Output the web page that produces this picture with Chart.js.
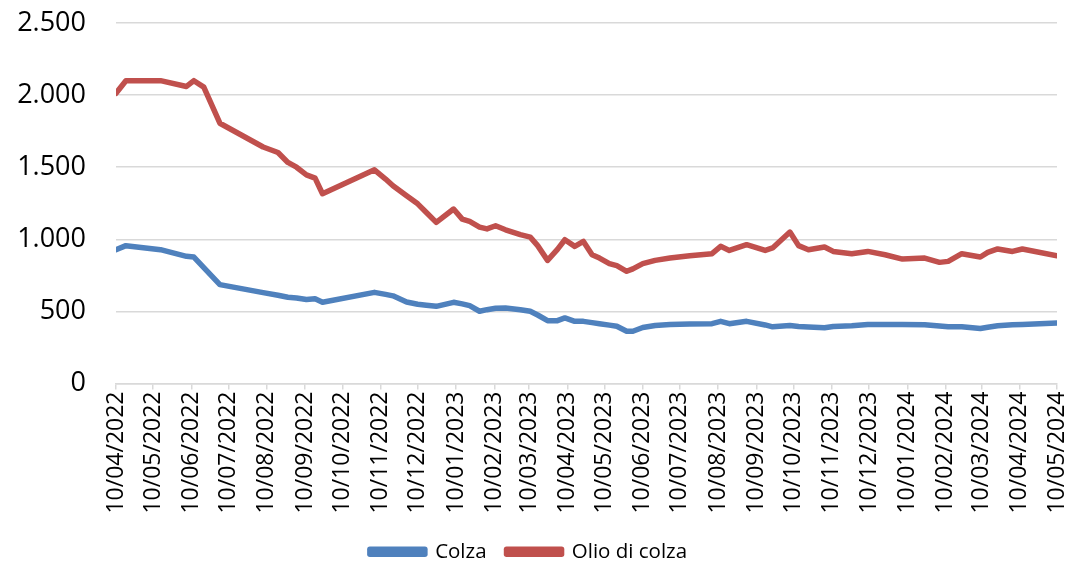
<!DOCTYPE html>
<html>
<head>
<meta charset="utf-8">
<script src="https://cdn.jsdelivr.net/npm/chart.js@4.4.1/dist/chart.umd.min.js"></script>
<style>
  html, body { margin: 0; padding: 0; background: #fff; }
  #wrap { width: 1066px; height: 563px; }
</style>
</head>
<body>
<div id="wrap"><canvas id="chart"></canvas></div>
<script>
// observation dates (dd/mm/yyyy)
const dates = [
    '10/04/2022', '18/04/2022', '16/05/2022', '06/06/2022', '12/06/2022', '20/06/2022', '03/07/2022',
    '07/08/2022', '19/08/2022', '27/08/2022', '03/09/2022', '11/09/2022', '18/09/2022', '24/09/2022',
    '05/11/2022', '14/11/2022', '20/11/2022', '01/12/2022', '10/12/2022', '17/12/2022', '25/12/2022',
    '08/01/2023', '15/01/2023', '21/01/2023', '29/01/2023', '04/02/2023', '11/02/2023', '19/02/2023',
    '03/03/2023', '11/03/2023', '17/03/2023', '25/03/2023', '02/04/2023', '08/04/2023', '16/04/2023',
    '23/04/2023', '30/04/2023', '06/05/2023', '14/05/2023', '20/05/2023', '28/05/2023', '02/06/2023',
    '10/06/2023', '20/06/2023', '02/07/2023', '18/07/2023', '05/08/2023', '12/08/2023', '19/08/2023',
    '02/09/2023', '17/09/2023', '23/09/2023', '07/10/2023', '14/10/2023', '22/10/2023', '04/11/2023',
    '11/11/2023', '26/11/2023', '09/12/2023', '23/12/2023', '06/01/2024', '24/01/2024', '05/02/2024',
    '12/02/2024', '23/02/2024', '09/03/2024', '15/03/2024', '23/03/2024', '04/04/2024', '12/04/2024',
    '10/05/2024'
];

const colza = [
    928, 956, 928, 882, 877, 804, 686,
    630, 612, 598, 593, 582, 587, 563,
    632, 618, 608, 565, 550, 543, 535,
    563, 552, 540, 501, 512, 522, 524,
    512, 501, 475, 436, 436, 455, 431,
    431, 422, 415, 405, 397, 362, 362,
    388, 402, 409, 413, 415, 431, 415,
    431, 406, 393, 402, 395, 392, 386,
    395, 400, 409, 409, 409, 408, 398,
    393, 393, 381, 390, 400, 407, 410,
    420
];

const olioDiColza = [
    2013, 2100, 2100, 2060, 2100, 2055, 1805,
    1640, 1602, 1533, 1500, 1447, 1424, 1316,
    1482, 1418, 1371, 1302, 1246, 1186, 1117,
    1210, 1140, 1124, 1085, 1072, 1094, 1066,
    1032, 1015, 956, 854, 930, 997, 951,
    985, 893, 870, 831, 817, 778, 795,
    831, 854, 870, 886, 900, 951, 923,
    963, 923, 940, 1050, 956, 928, 947,
    916, 900, 916, 893, 863, 870, 840,
    847, 900, 877, 909, 933, 916, 933,
    886
];

const tickDates = [
    '10/04/2022', '10/05/2022', '10/06/2022', '10/07/2022', '10/08/2022', '10/09/2022',
    '10/10/2022', '10/11/2022', '10/12/2022', '10/01/2023', '10/02/2023', '10/03/2023',
    '10/04/2023', '10/05/2023', '10/06/2023', '10/07/2023', '10/08/2023', '10/09/2023',
    '10/10/2023', '10/11/2023', '10/12/2023', '10/01/2024', '10/02/2024', '10/03/2024',
    '10/04/2024', '10/05/2024'
];

const yTicks = [0, 500, 1000, 1500, 2000, 2500];

// days since first date, used as the x position
function toDay(str) {
    const p = str.split('/');
    const t = Date.UTC(+p[2], +p[1] - 1, +p[0]);
    const t0 = Date.UTC(2022, 3, 10);
    return Math.round((t - t0) / 86400000);
}

const tickDays = tickDates.map(toDay);
const tickLabelByDay = {};
tickDates.forEach((d, i) => { tickLabelByDay[tickDays[i]] = d; });

function points(values) {
    return values.map((v, i) => ({ x: toDay(dates[i]), y: v }));
}

function formatIt(v) {
    return String(v).replace(/\B(?=(\d{3})+(?!\d))/g, '.');
}

const FONT = "'Open Sans', 'Liberation Sans', sans-serif";
const BLUE = '#4F81BD';
const RED = '#C0504D';
const GRID = '#d9d9d9';

const ctx = document.getElementById('chart').getContext('2d');
new Chart(ctx, {
    type: 'line',
    data: {
        datasets: [
            {
                label: 'Colza',
                data: points(colza),
                borderColor: BLUE,
                backgroundColor: BLUE,
                borderWidth: 5.5,
                pointRadius: 0,
                tension: 0,
                borderJoinStyle: 'round',
                borderCapStyle: 'round'
            },
            {
                label: 'Olio di colza',
                data: points(olioDiColza),
                borderColor: RED,
                backgroundColor: RED,
                borderWidth: 5.5,
                pointRadius: 0,
                tension: 0,
                borderJoinStyle: 'round',
                borderCapStyle: 'round'
            }
        ]
    },
    options: {
        responsive: true,
        maintainAspectRatio: false,
        animation: false,
        layout: {
            padding: { top: 23, right: 9, left: 0, bottom: -9 }
        },
        scales: {
            x: {
                type: 'linear',
                min: tickDays[0],
                max: tickDays[tickDays.length - 1],
                afterBuildTicks: function (scale) {
                    scale.ticks = tickDays.map(d => ({ value: d }));
                },
                afterFit: function (scale) {
                    scale.height = 138;
                    scale.paddingLeft = 0;
                    scale.paddingRight = 0;
                },
                ticks: {
                    autoSkip: false,
                    minRotation: 90,
                    maxRotation: 90,
                    padding: 2,
                    color: '#000',
                    font: { family: FONT, size: 23 },
                    callback: function (value) {
                        return tickLabelByDay[value] || '';
                    }
                },
                grid: {
                    display: true,
                    drawOnChartArea: false,
                    drawTicks: true,
                    tickLength: 6,
                    color: GRID,
                    lineWidth: 1.5
                },
                border: { display: true, color: GRID, width: 1.5 }
            },
            y: {
                min: 0,
                max: 2500,
                afterBuildTicks: function (scale) {
                    scale.ticks = yTicks.map(v => ({ value: v }));
                },
                afterFit: function (scale) {
                    scale.width = 116;
                    scale.paddingTop = 0;
                    scale.paddingBottom = 0;
                },
                ticks: {
                    padding: 30,
                    color: '#000',
                    font: { family: FONT, size: 27 },
                    callback: function (value) {
                        return formatIt(value);
                    }
                },
                grid: {
                    color: GRID,
                    lineWidth: 1.5,
                    drawTicks: false
                },
                border: { display: false }
            }
        },
        plugins: {
            legend: {
                position: 'bottom',
                labels: {
                    boxWidth: 55,
                    boxHeight: 5,
                    padding: 20,
                    color: '#000',
                    font: { family: FONT, size: 20.5 }
                }
            },
            tooltip: { enabled: false }
        }
    }
});
</script>
</body>
</html>
